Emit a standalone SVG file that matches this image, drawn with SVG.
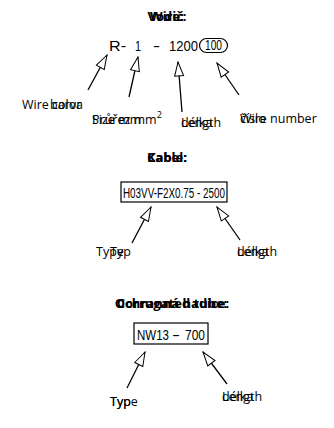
<svg xmlns="http://www.w3.org/2000/svg" width="334" height="428" viewBox="0 0 334 428">
<style>
.t{font-family:"Open Sans","Noto Sans",sans-serif;font-size:12.5px;fill:#000}
.b{font-family:"Open Sans","Noto Sans",sans-serif;font-size:13px;font-weight:bold;fill:#000;text-anchor:middle}
.c{font-family:"Liberation Sans","DejaVu Sans",sans-serif;font-size:15px;fill:#000}
.box{fill:#fff;stroke:#000;stroke-width:1.2}
.ln{stroke:#000;stroke-width:1.3;fill:none;marker-end:url(#ah)}
</style>
<defs>
<marker id="ah" markerUnits="userSpaceOnUse" viewBox="-1 -6 16 12" refX="14" refY="0" markerWidth="16" markerHeight="12" orient="auto">
<path d="M14,0 L0,-4.5 L0,4.5 Z" fill="#fff" stroke="#000" stroke-width="1"/>
</marker>
</defs>
<rect width="334" height="428" fill="#fff"/>

<g id="wire-title">
<text class="b" x="167" y="21">Vodič:</text>
<text class="b" x="167" y="21">Wire:</text>
</g>
<g id="wire-code">
<text class="c" x="109" y="51" textLength="17" lengthAdjust="spacingAndGlyphs">R-</text>
<text class="c" x="135" y="51" textLength="6" lengthAdjust="spacingAndGlyphs">1</text>
<text class="c" x="153" y="51" textLength="7" lengthAdjust="spacingAndGlyphs">-</text>
<text class="c" x="169" y="51" textLength="29" lengthAdjust="spacingAndGlyphs">1200</text>
<rect x="199.5" y="38.5" width="28" height="14" rx="7" ry="7" fill="none" stroke="#000" stroke-width="1.2"/>
<text class="c" x="205" y="50" font-size="13" textLength="17" lengthAdjust="spacingAndGlyphs">100</text>
</g>
<g id="wire-color">
<text class="t" x="22" y="109">Wire color</text>
<text class="t" x="50" y="109">barva</text>
</g>
<g id="wire-size">
<text class="t" x="92" y="124">Průřez mm<tspan dy="-6" font-size="9">2</tspan></text>
<text class="t" x="92" y="124">Size mm</text>
</g>
<g id="wire-length">
<text class="t" x="181" y="127">délka</text>
<text class="t" x="181" y="127">Length</text>
</g>
<g id="wire-number">
<text class="t" x="240" y="123">číslo</text>
<text class="t" x="240" y="123">Wire number</text>
</g>

<g id="cable-title">
<text class="b" x="167" y="162">Kabel:</text>
<text class="b" x="167" y="162">Cable:</text>
</g>
<g id="cable-code">
<rect class="box" x="121" y="182" width="106" height="20"/>
<text class="c" x="123" y="197.5" textLength="102" lengthAdjust="spacingAndGlyphs">H03VV-F2X0.75 - 2500</text>
</g>
<g id="cable-type">
<text class="t" x="96" y="256">Type</text>
<text class="t" x="110" y="256">Typ</text>
</g>
<g id="cable-length">
<text class="t" x="237" y="256">délka</text>
<text class="t" x="237" y="256">Length</text>
</g>

<g id="tube-title">
<text class="b" x="172" y="308">Ochranná hadice:</text>
<text class="b" x="172" y="308">Corrugated tube:</text>
</g>
<g id="tube-code">
<rect class="box" x="134" y="323" width="74" height="21"/>
<text class="c" x="137" y="339.5" textLength="32" lengthAdjust="spacingAndGlyphs">NW13</text>
<text class="c" x="172" y="339.5" textLength="8" lengthAdjust="spacingAndGlyphs">-</text>
<text class="c" x="185" y="339.5" textLength="20" lengthAdjust="spacingAndGlyphs">700</text>
</g>
<g id="tube-type">
<text class="t" x="110" y="406">Typ</text>
<text class="t" x="110" y="406">Type</text>
</g>
<g id="tube-length">
<text class="t" x="222" y="401">délka</text>
<text class="t" x="222" y="401">Length</text>
</g>

<g id="connectors">
<line class="ln" x1="88" y1="90" x2="107" y2="55"/>
<line class="ln" x1="129" y1="97" x2="138" y2="57"/>
<line class="ln" x1="182" y1="112" x2="178" y2="62"/>
<line class="ln" x1="239" y1="95" x2="217" y2="63"/>
<line class="ln" x1="132" y1="243" x2="151" y2="207"/>
<line class="ln" x1="240" y1="240" x2="217" y2="207"/>
<line class="ln" x1="127" y1="388" x2="145" y2="352"/>
<line class="ln" x1="227" y1="384" x2="203" y2="352"/>
</g>
</svg>
